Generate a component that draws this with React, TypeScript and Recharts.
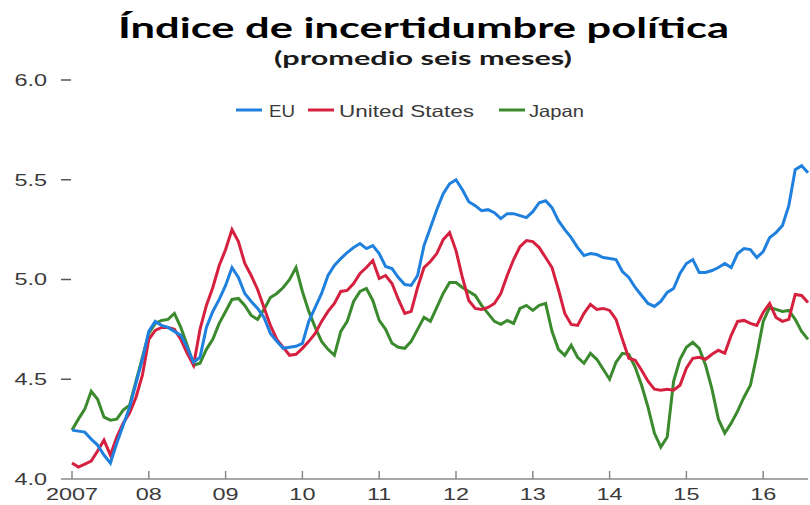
import { LineChart, Line, XAxis, YAxis } from 'recharts';

// monthly, Jan 2007 .. Aug 2016
const euValues = [
  4.245, 4.24, 4.235, 4.2, 4.17, 4.12, 4.08, 4.18, 4.27, 4.36, 4.48, 4.6,
  4.74, 4.79, 4.77, 4.76, 4.74, 4.72, 4.66, 4.585, 4.61, 4.76, 4.84, 4.9,
  4.97, 5.06, 5.01, 4.93, 4.89, 4.855, 4.81, 4.73, 4.69, 4.655, 4.66, 4.665,
  4.68, 4.79, 4.86, 4.93, 5.02, 5.07, 5.105, 5.135, 5.16, 5.18, 5.155, 5.17,
  5.13, 5.065, 5.055, 5.01, 4.975, 4.97, 5.02, 5.17, 5.26, 5.35, 5.43, 5.48,
  5.5, 5.45, 5.39, 5.37, 5.345, 5.35, 5.335, 5.305, 5.33, 5.33, 5.32, 5.31,
  5.34, 5.385, 5.395, 5.36, 5.295, 5.25, 5.21, 5.16, 5.12, 5.13, 5.125, 5.11,
  5.105, 5.1, 5.04, 5.01, 4.96, 4.92, 4.88, 4.865, 4.89, 4.935, 4.955, 5.03,
  5.08, 5.1, 5.035, 5.035, 5.045, 5.06, 5.08, 5.06, 5.13, 5.155, 5.15, 5.11,
  5.14, 5.21, 5.235, 5.27, 5.37, 5.55, 5.57, 5.535,
];

const usValues = [
  4.08, 4.06, 4.075, 4.09, 4.14, 4.195, 4.12, 4.21, 4.28, 4.33, 4.41, 4.52,
  4.7, 4.745, 4.76, 4.76, 4.75, 4.7, 4.63, 4.57, 4.75, 4.87, 4.96, 5.07,
  5.15, 5.25, 5.19, 5.08, 5.02, 4.95, 4.86, 4.77, 4.7, 4.66, 4.62, 4.625,
  4.655, 4.69, 4.73, 4.79, 4.84, 4.88, 4.94, 4.945, 4.98, 5.03, 5.06, 5.095,
  5.005, 5.02, 4.98, 4.9, 4.83, 4.84, 4.96, 5.06, 5.09, 5.13, 5.2, 5.235,
  5.145, 5.01, 4.895, 4.855, 4.85, 4.86, 4.88, 4.93, 5.02, 5.1, 5.165, 5.195,
  5.19, 5.16, 5.11, 5.06, 4.95, 4.83, 4.775, 4.77, 4.83, 4.875, 4.85, 4.855,
  4.845, 4.8, 4.7, 4.605, 4.595, 4.545, 4.49, 4.45, 4.445, 4.45, 4.445, 4.47,
  4.555, 4.605, 4.61, 4.6, 4.625, 4.645, 4.63, 4.72, 4.79, 4.795, 4.78, 4.77,
  4.835, 4.88, 4.81, 4.79, 4.8, 4.925, 4.92, 4.885,
];

const jpValues = [
  4.245, 4.3, 4.35, 4.44, 4.4, 4.31, 4.295, 4.3, 4.345, 4.37, 4.49, 4.61,
  4.73, 4.78, 4.795, 4.8, 4.83, 4.76, 4.67, 4.57, 4.58, 4.65, 4.7, 4.78,
  4.84, 4.9, 4.905, 4.87, 4.82, 4.8, 4.85, 4.91, 4.93, 4.96, 5.0, 5.06,
  4.94, 4.84, 4.76, 4.69, 4.65, 4.62, 4.74, 4.79, 4.89, 4.94, 4.955, 4.895,
  4.795, 4.75, 4.68, 4.66, 4.655, 4.69, 4.75, 4.81, 4.79, 4.86, 4.93, 4.985,
  4.985, 4.96, 4.94, 4.92, 4.87, 4.83, 4.79, 4.775, 4.795, 4.78, 4.855, 4.87,
  4.845, 4.87, 4.88, 4.74, 4.65, 4.62, 4.67, 4.61, 4.58, 4.63, 4.6, 4.55,
  4.5, 4.585, 4.63, 4.625, 4.56, 4.47, 4.36, 4.23, 4.16, 4.21, 4.49, 4.6,
  4.66, 4.685, 4.655, 4.57, 4.45, 4.3, 4.23, 4.28, 4.34, 4.41, 4.47, 4.62,
  4.79, 4.86, 4.85, 4.84, 4.845, 4.8, 4.74, 4.7,
];

const yearTicks = [0, 12, 24, 36, 48, 60, 72, 84, 96, 108];
const yearLabels = ['2007', '08', '09', '10', '11', '12', '13', '14', '15', '16'];
const valueTicks = [4, 4.5, 5, 5.5, 6];

const seriesNames = ['EU', 'United States', 'Japan'];
const seriesColors = ['#1f80de', '#d6203f', '#3b8a2e'];

const data = euValues.map((v, i) => ({
  m: i,
  eu: v,
  us: usValues[i],
  jp: jpValues[i],
}));

const FONT = '"Liberation Sans", Arial, sans-serif';
// the source picture is stretched sideways; text is widened to match
const STRETCH = 1.42;

const XTick = (props: any) => {
  const { x, y, payload } = props;
  const idx = yearTicks.indexOf(payload.value);
  return (
    <g>
      <line x1={x} x2={x} y1={y} y2={y - 8} stroke="#8a8a8a" strokeWidth={1.5} />
      <g transform={`translate(${x},${y + 21}) scale(${STRETCH},1)`}>
        <text x={0} y={0} textAnchor="middle" fontSize={16.5} fill="#3a3a3a" fontFamily={FONT}>
          {yearLabels[idx]}
        </text>
      </g>
    </g>
  );
};

const YTick = (props: any) => {
  const { x, y, payload } = props;
  const isBase = payload.value === 4;
  return (
    <g>
      <line
        x1={x - 11}
        x2={isBase ? x : x - 1}
        y1={y}
        y2={y}
        stroke={isBase ? '#8a8a8a' : '#555'}
        strokeWidth={1.5}
      />
      <g transform={`translate(${x - 25},${y}) scale(${STRETCH},1)`}>
        <text x={0} y={0} dy="0.36em" textAnchor="end" fontSize={16.5} fill="#3a3a3a" fontFamily={FONT}>
          {payload.value.toFixed(1)}
        </text>
      </g>
    </g>
  );
};

const legendPos = [
  { line: 236, text: 269, width: 26 },
  { line: 308, text: 339, width: 135 },
  { line: 499, text: 529, width: 55 },
];

export default function App() {
  return (
    <div style={{ position: 'absolute', top: 0, left: 0, width: 810, height: 505, overflow: 'hidden', background: '#fff' }}>
      <LineChart width={850} height={505} data={data} margin={{ top: 80, right: 0, bottom: 0, left: 0 }}>
        <XAxis
          dataKey="m"
          type="number"
          domain={[0, 115]}
          ticks={yearTicks}
          tick={<XTick />}
          tickLine={false}
          tickSize={0}
          tickMargin={0}
          axisLine={{ stroke: '#8a8a8a', strokeWidth: 1.5 }}
          height={26}
          interval={0}
        />
        <YAxis
          yAxisId="left"
          domain={[4, 6]}
          ticks={valueTicks}
          tick={<YTick />}
          tickLine={false}
          tickSize={0}
          tickMargin={0}
          axisLine={false}
          width={72}
          interval={0}
        />
        <YAxis
          yAxisId="right"
          orientation="right"
          domain={[4, 6]}
          ticks={valueTicks}
          tickLine={{ stroke: '#555' }}
          tickSize={7}
          tick={{ fontSize: 16, fill: '#333' }}
          axisLine={false}
          width={42}
        />
        <Line yAxisId="left" type="linear" dataKey="jp" stroke={seriesColors[2]} strokeWidth={3} dot={false} isAnimationActive={false} />
        <Line yAxisId="left" type="linear" dataKey="us" stroke={seriesColors[1]} strokeWidth={3} dot={false} isAnimationActive={false} />
        <Line yAxisId="left" type="linear" dataKey="eu" stroke={seriesColors[0]} strokeWidth={3} dot={false} isAnimationActive={false} />
      </LineChart>
      <svg width={810} height={130} style={{ position: 'absolute', top: 0, left: 0, pointerEvents: 'none' }}>
        <text
          x={118}
          y={38}
          textLength={611}
          lengthAdjust="spacingAndGlyphs"
          fontFamily="Lato, sans-serif"
          fontWeight={700}
          fontSize={29}
          fill="#000"
        >
          Índice de incertidumbre política
        </text>
        <text
          x={274}
          y={65}
          textLength={298}
          lengthAdjust="spacingAndGlyphs"
          fontFamily="Lato, sans-serif"
          fontWeight={700}
          fontSize={19.5}
          fill="#1a1a1a"
        >
          (promedio seis meses)
        </text>
        {seriesNames.map((name, i) => (
          <g key={name}>
            <line x1={legendPos[i].line} x2={legendPos[i].line + 26} y1={110} y2={110} stroke={seriesColors[i]} strokeWidth={3} />
            <text
              x={legendPos[i].text}
              y={117}
              textLength={legendPos[i].width}
              lengthAdjust="spacingAndGlyphs"
              fontSize={16.5}
              fill="#3a3a3a"
              fontFamily={FONT}
            >
              {name}
            </text>
          </g>
        ))}
      </svg>
    </div>
  );
}
